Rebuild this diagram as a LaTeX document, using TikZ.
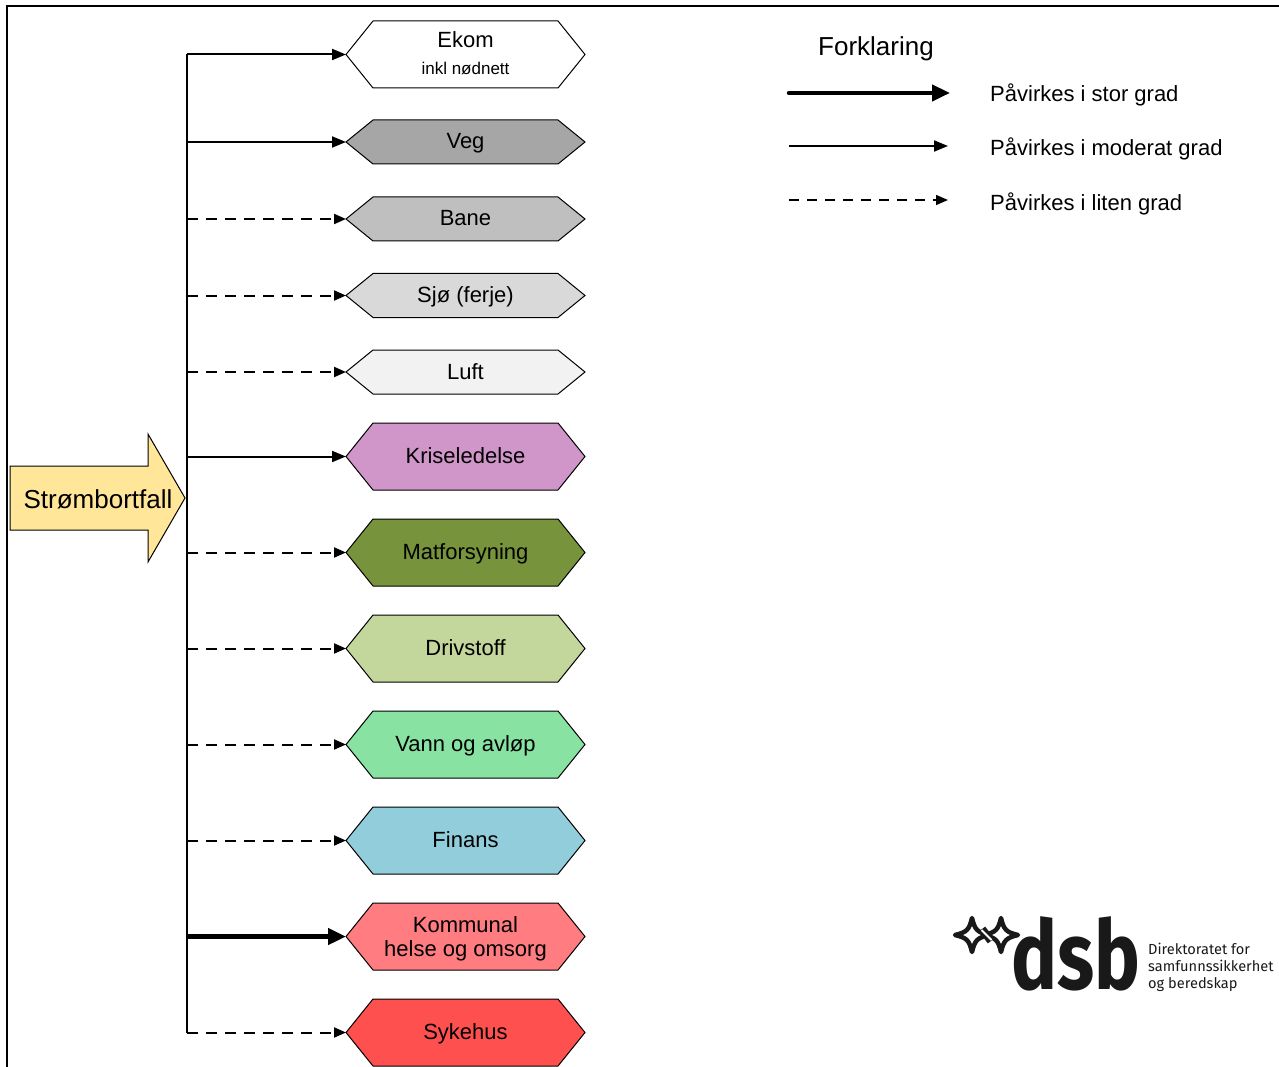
\documentclass[tikz,border=0pt]{standalone}
\usepackage{fontspec}
\setmainfont{Liberation Sans}
\newfontfamily\logofont{Fira Sans}
\usetikzlibrary{arrows.meta}
\definecolor{cveg}{HTML}{A6A6A6}
\definecolor{cbane}{HTML}{BFBFBF}
\definecolor{csjo}{HTML}{D9D9D9}
\definecolor{cluft}{HTML}{F2F2F2}
\definecolor{ckrise}{HTML}{D196C9}
\definecolor{cmat}{HTML}{77933C}
\definecolor{cdriv}{HTML}{C3D69B}
\definecolor{cvann}{HTML}{88E3A3}
\definecolor{cfin}{HTML}{92CDDC}
\definecolor{ckom}{HTML}{FF7C80}
\definecolor{csyk}{HTML}{FF5050}
\definecolor{cstrom}{HTML}{FFE699}
\tikzset{
  hexshape/.style={draw=black, line width=1pt, line join=miter},
  hexlabel/.style={inner sep=0pt, outer sep=0pt, minimum width=239pt, align=center,
    font=\fontsize{22}{24}\selectfont},
  oneline/.style={text height=17pt, text depth=3pt},
  modarrow/.style={line width=2pt, -{Triangle[length=14pt,width=11pt]}},
  thickarrow/.style={line width=4.5pt, -{Triangle[length=18pt,width=16pt]}},
  dasharrow/.style={line width=2pt, dash pattern=on 11pt off 8pt, -{Triangle[length=12pt,width=10pt]}},
  legendtext/.style={anchor=west, inner sep=0pt, font=\fontsize{22}{24}\selectfont},
  starline/.style={line width=4.5pt, line join=round, draw=black!90, fill=white},
}
% #1 name, #2 y, #3 height, #4 colour, #5 extra label style, #6 text
\newcommand{\hexn}[6]{%
  \path[hexshape, fill=#4] (346,#2) -- (373,#2-#3/2) -- (558,#2-#3/2) -- (585,#2)
    -- (558,#2+#3/2) -- (373,#2+#3/2) -- cycle;
  \node[hexlabel, minimum height=#3pt, #5] (#1) at (465.5,#2) {#6};
}
\newcommand{\sparkle}[2]{%
  \draw[starline, shift={(#1,#2)}] (0,-17) .. controls (3,-5) and (5,-3) .. (17,0)
    .. controls (5,3) and (3,5) .. (0,17) .. controls (-3,5) and (-5,3) .. (-17,0)
    .. controls (-5,-3) and (-3,-5) .. (0,-17) -- cycle;
}
\begin{document}
\begin{tikzpicture}[x=1pt, y=-1pt]
\useasboundingbox (0,0) rectangle (1279,1067);
% frame
\coordinate (frameTL) at (7,6);
\coordinate (frameTR) at (1279,6);
\coordinate (frameBL) at (7,1067);
\draw[line width=2pt] (frameBL) -- (frameTL) -- (frameTR);

% source arrow
\draw[line width=1pt, fill=cstrom] (10,466) -- (148,466) -- (148,434) -- (185,498)
  -- (148,562) -- (148,530) -- (10,530) -- cycle;
\node[inner sep=0pt, font=\fontsize{26}{28}\selectfont] (strom) at (98,499) {Strømbortfall};

% hexagons
\hexn{ekom}{54.5}{67}{white}{yshift=1pt}{Ekom\\[3pt]{\fontsize{17}{20}\selectfont inkl nødnett}}
\hexn{veg}{142}{44}{cveg}{oneline}{Veg}
\hexn{bane}{219}{44}{cbane}{oneline}{Bane}
\hexn{sjo}{295.5}{44}{csjo}{oneline}{Sjø (ferje)}
\hexn{luft}{372}{44}{cluft}{oneline}{Luft}
\hexn{krise}{456.5}{67}{ckrise}{oneline}{Kriseledelse}
\hexn{mat}{552.5}{67}{cmat}{oneline}{Matforsyning}
\hexn{driv}{648.5}{67}{cdriv}{oneline}{Drivstoff}
\hexn{vann}{744.5}{67}{cvann}{oneline}{Vann og avløp}
\hexn{fin}{840.5}{67}{cfin}{oneline}{Finans}
\hexn{kom}{936.5}{67}{ckom}{yshift=-2.5pt}{Kommunal\\helse og omsorg}
\hexn{syk}{1032.5}{67}{csyk}{oneline}{Sykehus}

% trunk
\coordinate (tekom) at (187,54.5);
\coordinate (tveg) at (187,142);
\coordinate (tbane) at (187,219);
\coordinate (tsjo) at (187,295.5);
\coordinate (tluft) at (187,372);
\coordinate (tkrise) at (187,456.5);
\coordinate (tmat) at (187,552.5);
\coordinate (tdriv) at (187,648.5);
\coordinate (tvann) at (187,744.5);
\coordinate (tfin) at (187,840.5);
\coordinate (tkom) at (187,936.5);
\coordinate (tsyk) at (187,1032.5);
\draw[line width=2pt] (tekom) -- (tsyk);

\draw[modarrow] (tekom) -- (tekom -| ekom.west);
\draw[modarrow] (tveg) -- (tveg -| veg.west);
\draw[dasharrow] (tbane) -- (tbane -| bane.west);
\draw[dasharrow] (tsjo) -- (tsjo -| sjo.west);
\draw[dasharrow] (tluft) -- (tluft -| luft.west);
\draw[modarrow] (tkrise) -- (tkrise -| krise.west);
\draw[dasharrow] (tmat) -- (tmat -| mat.west);
\draw[dasharrow] (tdriv) -- (tdriv -| driv.west);
\draw[dasharrow] (tvann) -- (tvann -| vann.west);
\draw[dasharrow] (tfin) -- (tfin -| fin.west);
\draw[thickarrow] (tkom) -- (tkom -| kom.west);
\draw[dasharrow] (tsyk) -- (tsyk -| syk.west);

% legend
\node[inner sep=0pt, font=\fontsize{26}{28}\selectfont] (forkl) at (876,49) {Forklaring};
\coordinate (l1s) at (789,93);   \coordinate (l1e) at (950,93);
\coordinate (l2s) at (789,146);  \coordinate (l2e) at (948,146);
\coordinate (l3s) at (789,200);  \coordinate (l3e) at (948,200);
\draw[thickarrow, line cap=round] (l1s) -- (l1e);
\draw[modarrow] (l2s) -- (l2e);
\draw[dasharrow, line width=1.5pt, dash pattern=on 10pt off 8pt] (l3s) -- (l3e);
\node[legendtext] (lt1) at (990,95) {Påvirkes i stor grad};
\node[legendtext] (lt2) at (990,149) {Påvirkes i moderat grad};
\node[legendtext] (lt3) at (990,204) {Påvirkes i liten grad};

% logo
\sparkle{972}{935}
\sparkle{1001}{935}
\draw[line width=8pt, black!90] (982,929) -- (991,941);
\draw[line width=2pt, white] (981.5,930) -- (991.5,940);
\node[anchor=base west, inner sep=0pt, xscale=0.8, text=black!90,
  font=\logofont\bfseries\fontsize{96}{96}\selectfont] (dsb) at (1011,989) {dsb};
\node[anchor=north west, inner sep=0pt, align=left, text=black!90,
  font=\logofont\fontsize{14.6}{17}\selectfont] (dsbname) at (1148,943)
  {Direktoratet for\\samfunnssikkerhet\\og beredskap};
\end{tikzpicture}
\end{document}
